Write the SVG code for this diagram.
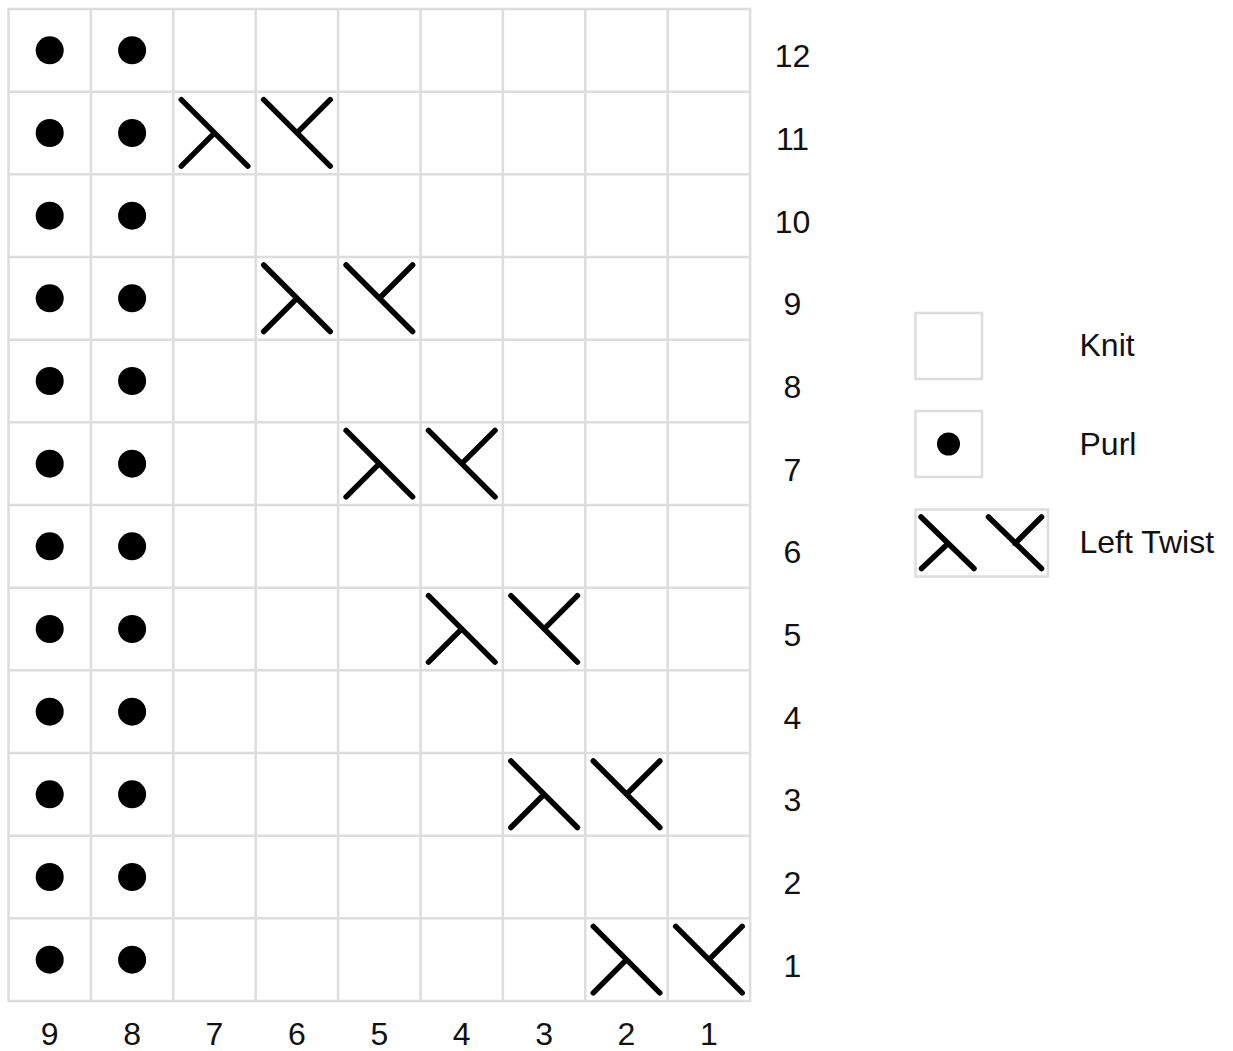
<svg xmlns="http://www.w3.org/2000/svg" xmlns:xlink="http://www.w3.org/1999/xlink" width="1233" height="1051" viewBox="0 0 1233 1051">
<style>
.grid{fill:#ffffff;stroke:#dddddd;stroke-width:2.5}
.dot{fill:#000000}
.tw{fill:none;stroke:#000000;stroke-width:5.5;stroke-linecap:round}
.lbl{font-family:"Liberation Sans",Arial,sans-serif;font-size:32px;fill:#111111}
.mid{text-anchor:middle}
</style>
<defs>
<g id="twL"><path class="tw" d="M8,8 L74.5,74.5 M8,74.5 L41,41.5"/></g>
<g id="twR"><path class="tw" d="M8,8 L74.5,74.5 M74.5,8 L41.5,41"/></g>
<circle id="purl" class="dot" r="14"/>
</defs>
<rect width="1233" height="1051" fill="#ffffff"/>
<g id="chart-grid">
<rect class="grid" x="8.5" y="9" width="741.6" height="992"/>
<path class="grid" fill="none" d="M90.9,9V1001 M173.3,9V1001 M255.7,9V1001 M338.1,9V1001 M420.5,9V1001 M502.9,9V1001 M585.3,9V1001 M667.7,9V1001 M8.5,91.67H750.1 M8.5,174.33H750.1 M8.5,257H750.1 M8.5,339.67H750.1 M8.5,422.33H750.1 M8.5,505H750.1 M8.5,587.67H750.1 M8.5,670.33H750.1 M8.5,753H750.1 M8.5,835.67H750.1 M8.5,918.33H750.1"/>
</g>
<g id="purl-stitches">
<use href="#purl" x="49.7" y="50.3"/><use href="#purl" x="132.1" y="50.3"/>
<use href="#purl" x="49.7" y="133"/><use href="#purl" x="132.1" y="133"/>
<use href="#purl" x="49.7" y="215.7"/><use href="#purl" x="132.1" y="215.7"/>
<use href="#purl" x="49.7" y="298.3"/><use href="#purl" x="132.1" y="298.3"/>
<use href="#purl" x="49.7" y="381"/><use href="#purl" x="132.1" y="381"/>
<use href="#purl" x="49.7" y="463.7"/><use href="#purl" x="132.1" y="463.7"/>
<use href="#purl" x="49.7" y="546.3"/><use href="#purl" x="132.1" y="546.3"/>
<use href="#purl" x="49.7" y="629"/><use href="#purl" x="132.1" y="629"/>
<use href="#purl" x="49.7" y="711.7"/><use href="#purl" x="132.1" y="711.7"/>
<use href="#purl" x="49.7" y="794.3"/><use href="#purl" x="132.1" y="794.3"/>
<use href="#purl" x="49.7" y="877"/><use href="#purl" x="132.1" y="877"/>
<use href="#purl" x="49.7" y="959.7"/><use href="#purl" x="132.1" y="959.7"/>
</g>
<g id="twists">
<use href="#twL" x="173.3" y="91.67"/><use href="#twR" x="255.7" y="91.67"/>
<use href="#twL" x="255.7" y="257"/><use href="#twR" x="338.1" y="257"/>
<use href="#twL" x="338.1" y="422.33"/><use href="#twR" x="420.5" y="422.33"/>
<use href="#twL" x="420.5" y="587.67"/><use href="#twR" x="502.9" y="587.67"/>
<use href="#twL" x="502.9" y="753"/><use href="#twR" x="585.3" y="753"/>
<use href="#twL" x="585.3" y="918.33"/><use href="#twR" x="667.7" y="918.33"/>
</g>
<g id="row-labels" class="lbl mid">
<text x="792.5" y="67.3">12</text>
<text x="792.5" y="150">11</text>
<text x="792.5" y="232.7">10</text>
<text x="792.5" y="315.3">9</text>
<text x="792.5" y="398">8</text>
<text x="792.5" y="480.7">7</text>
<text x="792.5" y="563.3">6</text>
<text x="792.5" y="646">5</text>
<text x="792.5" y="728.7">4</text>
<text x="792.5" y="811.3">3</text>
<text x="792.5" y="894">2</text>
<text x="792.5" y="976.7">1</text>
</g>
<g id="col-labels" class="lbl mid">
<text x="49.7" y="1045">9</text>
<text x="132.1" y="1045">8</text>
<text x="214.5" y="1045">7</text>
<text x="296.9" y="1045">6</text>
<text x="379.3" y="1045">5</text>
<text x="461.7" y="1045">4</text>
<text x="544.1" y="1045">3</text>
<text x="626.5" y="1045">2</text>
<text x="708.9" y="1045">1</text>
</g>
<g id="legend-knit">
<rect class="grid" x="915.5" y="313" width="66.5" height="66"/>
<text class="lbl" x="1079.5" y="356">Knit</text>
</g>
<g id="legend-purl">
<rect class="grid" x="915.5" y="411" width="66.5" height="66"/>
<circle class="dot" cx="948.5" cy="444" r="11.5"/>
<text class="lbl" x="1079.5" y="455">Purl</text>
</g>
<g id="legend-twist">
<rect class="grid" x="915.5" y="509.5" width="132.5" height="67"/>
<path class="tw" d="M921,517 L974,568.5 M921.5,568.5 L947,544.5 M988.5,517 L1041.5,568.5 M1041.5,517 L1015,543.5"/>
<text class="lbl" x="1079.5" y="552.5">Left Twist</text>
</g>
</svg>
